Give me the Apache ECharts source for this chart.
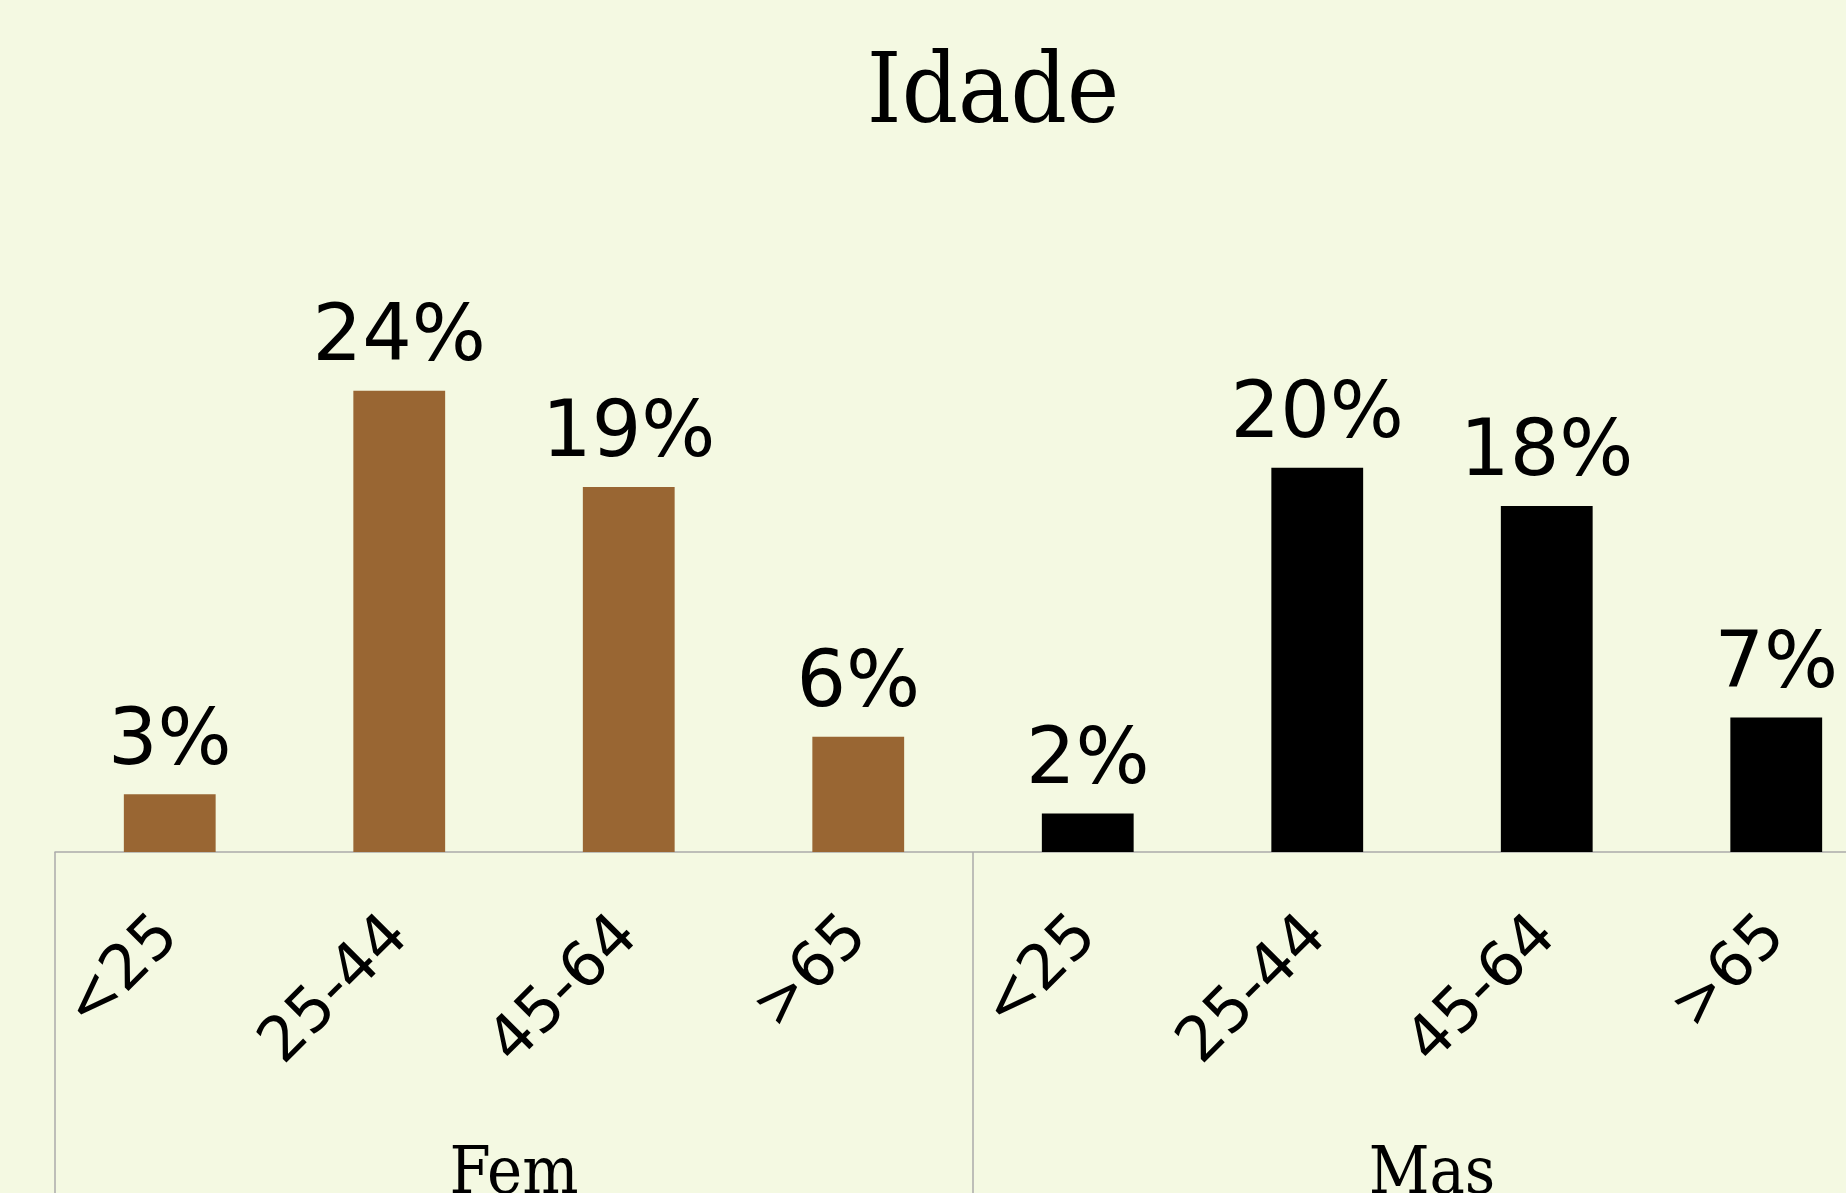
<!DOCTYPE html>
<html>
<head>
<meta charset="utf-8">
<title>Idade</title>
<script src="https://cdn.jsdelivr.net/npm/echarts@6/dist/echarts.min.js"></script>
<style>
    html, body {
        margin: 0;
        padding: 0;
        background: #f4f9e2;
    }
    #chart {
        width: 1846px;
        height: 1193px;
    }
</style>
</head>
<body>
<div id="chart"></div>
<script>
const ageGroups = ['<25', '25-44', '45-64', '>65']
const sexes = ['Fem', 'Mas']
const femValues = [3, 24, 19, 6]
const masValues = [2, 20, 18, 7]

const categories = ageGroups.concat(ageGroups)
const femData = femValues.concat(ageGroups.map(() => null))
const masData = ageGroups.map(() => null).concat(masValues)

const chart = echarts.init(document.getElementById('chart'))

const barLabel = {
    show: true,
    position: 'top',
    distance: 12,
    formatter: '{c}%',
    color: '#000',
    fontFamily: 'DejaVu Sans',
    fontSize: 78,
}

chart.setOption({
    backgroundColor: '#f4f9e2',
    animation: false,
    title: {
        text: 'Idade',
        left: 993,
        top: 48,
        padding: 0,
        textAlign: 'center',
        textStyle: {
            color: '#000',
            fontFamily: 'DejaVu Serif Condensed',
            fontWeight: 'normal',
            fontSize: 98,
        },
    },
    grid: {
        left: 55,
        width: 1836,
        top: 275.5,
        bottom: 341,
        containLabel: false,
        outerBoundsMode: 'none',
    },
    xAxis: [
        {
            type: 'category',
            data: categories,
            position: 'bottom',
            axisLine: {
                lineStyle: {
                    color: '#aaaaaa',
                    width: 1.5,
                },
            },
            axisTick: {
                show: false,
            },
            axisLabel: {
                interval: 0,
                rotate: 45,
                margin: 75,
                color: '#000',
                fontFamily: 'DejaVu Sans',
                fontSize: 62,
            },
        },
        {
            type: 'category',
            data: sexes,
            position: 'bottom',
            axisLine: {
                show: false,
            },
            axisTick: {
                show: true,
                interval: 0,
                length: 360,
                lineStyle: {
                    color: '#aaaaaa',
                    width: 1.5,
                },
            },
            axisLabel: {
                interval: 0,
                margin: 291,
                color: '#000',
                fontFamily: 'DejaVu Serif Condensed',
                fontSize: 66,
            },
        },
    ],
    yAxis: {
        type: 'value',
        show: false,
        min: 0,
        max: 30,
    },
    series: [
        {
            name: 'Fem',
            type: 'bar',
            xAxisIndex: 0,
            barWidth: '40%',
            barGap: '-100%',
            itemStyle: {
                color: '#996633',
            },
            label: barLabel,
            data: femData,
        },
        {
            name: 'Mas',
            type: 'bar',
            xAxisIndex: 0,
            barWidth: '40%',
            barGap: '-100%',
            itemStyle: {
                color: '#000000',
            },
            label: barLabel,
            data: masData,
        },
    ],
})
</script>
</body>
</html>
